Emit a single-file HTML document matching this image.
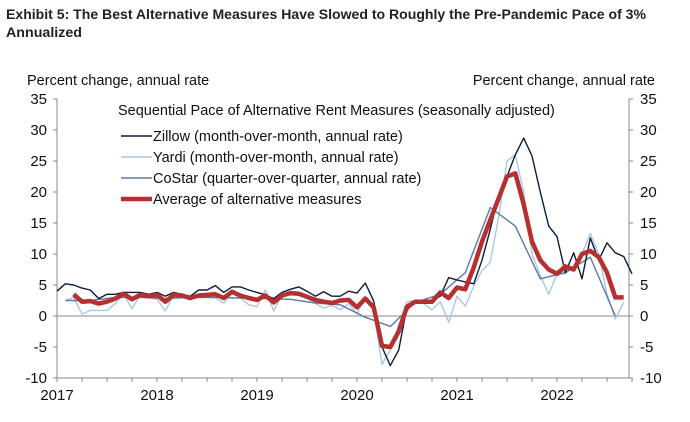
<!DOCTYPE html>
<html><head><meta charset="utf-8"><style>
html,body{margin:0;padding:0;background:#fff;}
svg{display:block;font-family:"Liberation Sans",Arial,sans-serif;}
</style></head><body>
<svg id="c" width="690" height="422" viewBox="0 0 690 422" xmlns="http://www.w3.org/2000/svg">
<text x="6" y="19" font-size="13.5" font-weight="bold" fill="#222" textLength="640" lengthAdjust="spacingAndGlyphs">Exhibit 5: The Best Alternative Measures Have Slowed to Roughly the Pre-Pandemic Pace of 3%</text>
<text x="6" y="37" font-size="13.5" font-weight="bold" fill="#222" textLength="76" lengthAdjust="spacingAndGlyphs">Annualized</text>
<text x="27" y="85" font-size="14.5" fill="#111">Percent change, annual rate</text>
<text x="655" y="85" font-size="14.5" fill="#111" text-anchor="end">Percent change, annual rate</text>
<g id="axes" stroke="#888" stroke-width="1" fill="none"></g>
<g id="labels" font-size="15" fill="#111"></g>
<g id="series" fill="none" stroke-linejoin="round"></g>
<text x="118" y="115" font-size="14.5" fill="#111">Sequential Pace of Alternative Rent Measures (seasonally adjusted)</text>
<line x1="121" y1="136" x2="152" y2="136" stroke="#0d1b3e" stroke-width="1.5"/>
<text x="153" y="141" font-size="14.5" fill="#111">Zillow (month-over-month, annual rate)</text>
<line x1="121" y1="157" x2="152" y2="157" stroke="#a9c8e6" stroke-width="1.5"/>
<text x="153" y="162" font-size="14.5" fill="#111">Yardi (month-over-month, annual rate)</text>
<line x1="121" y1="178" x2="152" y2="178" stroke="#5a7aa8" stroke-width="1.5"/>
<text x="153" y="183" font-size="14.5" fill="#111">CoStar (quarter-over-quarter, annual rate)</text>
<line x1="121" y1="199" x2="152" y2="199" stroke="#b5302e" stroke-width="4.5"/>
<text x="153" y="204" font-size="14.5" fill="#111">Average of alternative measures</text>
</svg>
<script>
var NS="http://www.w3.org/2000/svg";
function X(m){return 57+m*100/12;}
function Y(v){return 316-v*6.2;}
function el(p,t,a,txt){var e=document.createElementNS(NS,t);for(var k in a)e.setAttribute(k,a[k]);if(txt!==undefined)e.textContent=txt;document.getElementById(p).appendChild(e);}
el("axes","line",{x1:57,y1:Y(35),x2:57,y2:Y(-10)});
el("axes","line",{x1:629,y1:Y(35),x2:629,y2:Y(-10)});
el("axes","line",{x1:57,y1:Y(0),x2:629,y2:Y(0)});
el("axes","line",{x1:57,y1:Y(-10),x2:629,y2:Y(-10)});
for(var v=-10;v<=35;v+=5){
 el("axes","line",{x1:53,y1:Y(v),x2:57,y2:Y(v)});
 el("axes","line",{x1:629,y1:Y(v),x2:633,y2:Y(v)});
 el("labels","text",{x:47,y:Y(v)+5,"text-anchor":"end"},String(v));
 el("labels","text",{x:640,y:Y(v)+5},String(v));
}
for(var q=0;q<=23;q++){el("axes","line",{x1:X(q*3),y1:Y(-10),x2:X(q*3),y2:Y(-10)+4});}
for(var yr=0;yr<6;yr++){el("labels","text",{x:X(yr*12),y:400,"text-anchor":"middle"},String(2017+yr));}
function line(pts,col,w){
 var d="";pts.forEach(function(p,i){d+=(i?"L":"M")+X(p[0]).toFixed(1)+","+Y(p[1]).toFixed(1);});
 el("series","path",{d:d,stroke:col,"stroke-width":w});
}
function seq(start,vals){return vals.map(function(v,i){return [start+i,v];});}
var zp=[[0,4]].concat(seq(1,[5.2,5.0,4.5,4.2,2.8,3.5,3.5,3.8,3.8,3.8,3.5,3.8,3.2,3.8,3.5,3.2,4.2,4.2,4.9,3.8,4.7,4.7,4.2,3.8,3.4,2.8,3.8,4.3,4.7,4.0,3.2,3.9,3.2,3.2,4.0,3.7,5.3,2.4,-5,-8,-5.5,1.5,2.3,2.3,2.5,3.2,6.2,5.8,5.5,5.2,9,14,19.5,22.5,26,28.7,25.8,20,14.5,12.8,7,10.2,6,12.6,9,11.8,10.2,9.6,6.8]));
var yar=seq(1,[2.5,3.0,0.3,0.9,0.9,0.9,2,3.5,1.2,3.3,3.0,2.7,0.8,3.5,3.0,2.6,3.3,3.0,2.9,2.1,3.7,2.9,1.8,1.5,4.2,0.8,3.4,3.6,3.4,2.9,2.0,1.3,1.7,1.0,2.0,0.3,3.2,0.8,-7.8,-5.5,-1.5,2.3,2.5,2.0,1.0,2.3,-1.0,3.2,1.6,4.8,7.3,8.7,16,25,26,20,10,6.5,3.5,6.8,6.8,8,10,13.3,10,3.5,-0.5,2.2]);
var cos=[[1,2.5],[4,2.5],[7,3.0],[10,3.0],[13,2.8],[16,3.0],[19,3.0],[22,2.9],[25,2.8],[28,2.7],[31,2.1],[34,1.8],[37,-0.2],[40,-1.7],[43,2.2],[46,3.5],[49,7],[52,17.5],[55,14.5],[58,6],[61,7],[64,9.5],[67,0]];
var avg=seq(2,[3.5,2.3,2.4,2.0,2.3,2.8,3.6,2.7,3.4,3.2,3.4,2.3,3.4,3.3,2.9,3.3,3.4,3.5,2.9,3.9,3.3,2.9,2.6,3.3,2.2,3.3,3.7,3.6,3.1,2.6,2.3,2.1,2.5,2.6,1.4,2.8,1.4,-4.8,-5,-2.5,1.5,2.3,2.3,2.3,3.8,2.9,4.6,4.3,7.8,12,15.5,19,22.5,23,18,12,9,7.5,6.8,8,7.5,10,10.5,9.5,7,3,3]);
line(yar,"#a9c8e6",1.4);
line(cos,"#5a7aa8",1.4);
line(zp,"#0d1b3e",1.4);
line(avg,"#b5302e",4.5);
</script>
</body></html>
